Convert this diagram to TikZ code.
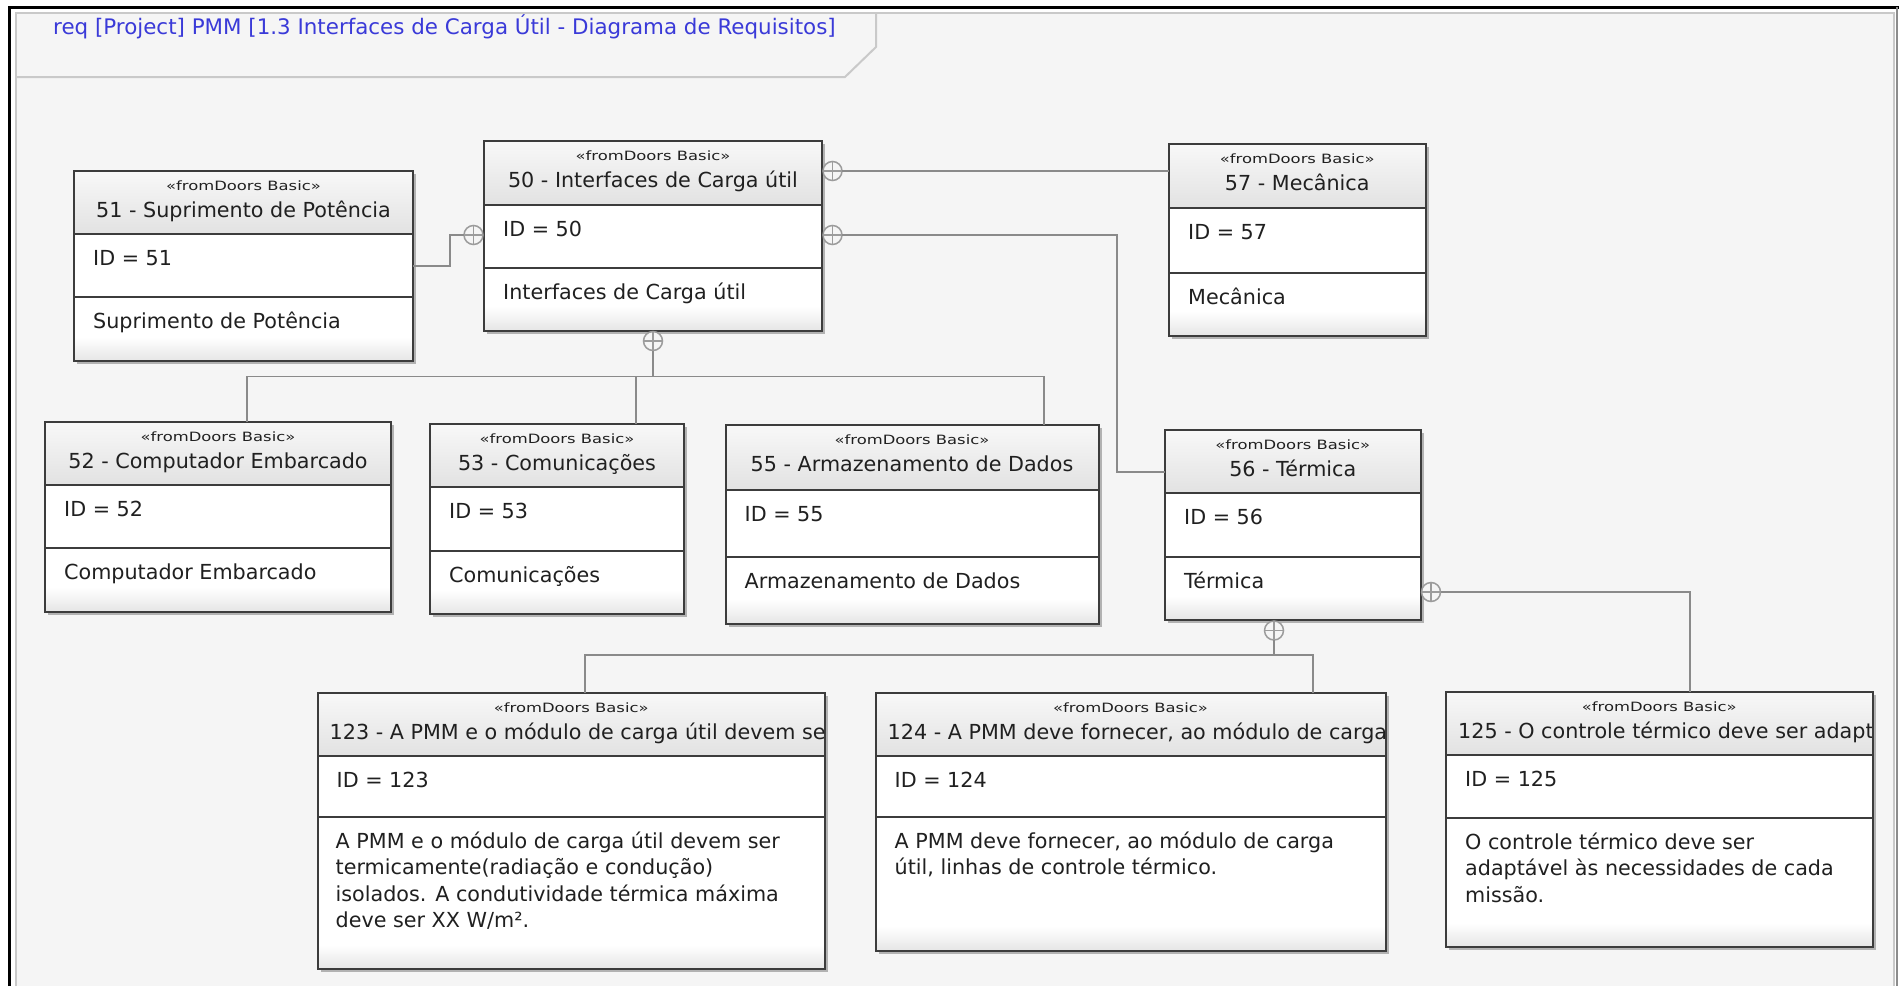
\documentclass[tikz,border=0pt]{standalone}
\usepackage{fontspec}
\setmainfont{DejaVu Sans}
\newfontfamily\stfont[FakeStretch=1.28]{DejaVu Sans}
\usetikzlibrary{fit,calc}
\definecolor{bg}{HTML}{F5F5F5}
\definecolor{frameg}{HTML}{C9C9C9}
\definecolor{boxb}{HTML}{3C3C3C}
\definecolor{hdrtop}{HTML}{F8F8F8}
\definecolor{hdrbot}{HTML}{E2E2E2}
\definecolor{conng}{HTML}{8A8A8A}
\definecolor{plusg}{HTML}{9C9C9C}
\definecolor{txt}{HTML}{202020}
\definecolor{titleblue}{HTML}{3A3AD8}
\tikzset{
 boxframe/.style={draw=boxb, line width=2pt, inner sep=0pt, outer sep=0pt, rectangle},
 divider/.style={draw=boxb, line width=2pt},
 shadowbox/.style={fill=black!30},
 mainfont/.style={font=\fontsize{20.7}{24}\selectfont, text=txt, inner sep=0pt},
 stfontst/.style={font=\stfont\fontsize{12.8}{14}\selectfont, text=txt, inner sep=0pt},
 conn/.style={draw=conng, line width=1.6pt},
 plusc/.style={circle, draw=plusg, line width=1.5pt, fill=bg, minimum size=19pt, inner sep=0pt, outer sep=0pt,
   path picture={\draw[plusg, line width=1.3pt] (path picture bounding box.north) -- (path picture bounding box.south) (path picture bounding box.west) -- (path picture bounding box.east);}},
}
\newcommand\rboxbase[7]{%
  \fill[shadowbox] ({#2+3},{#3+3}) rectangle ({#4+3},{#7+3});
  \shade[top color=hdrtop, bottom color=hdrbot] (#2,#3) rectangle (#4,#5);
  \fill[white] (#2,#5) rectangle (#4,{#7-24});
  \shade[top color=white, bottom color=black!10] (#2,{#7-24}) rectangle (#4,#7);
  \draw[divider] (#2,#5) -- (#4,#5) (#2,#6) -- (#4,#6);
  \node[boxframe, fit={(#2,#3) (#4,#7)}] (#1) {};
  \node[stfontst, anchor=base] (#1-st) at ({(#2+#4)/2},{#3+19.5}) {«fromDoors Basic»};
}
\newcommand\rbox[9]{%
  \rboxbase{#1}{#2}{#3}{#4}{#5}{#6}{#7}
  \node[mainfont, anchor=base] (#1-t) at ({(#2+#4)/2},{#3+46.5}) {#8};
  \node[mainfont, anchor=base west] (#1-id) at ({#2+19},{#5+31.5}) {#9};
}
\newcommand\rboxL[9]{%
  \rboxbase{#1}{#2}{#3}{#4}{#5}{#6}{#7}
  \begin{scope}
  \clip ({#2+1},#3) rectangle ({#4-1},#5);
  \node[mainfont, anchor=base west] (#1-t) at ({#2+12},{#3+46.5}) {#8};
  \end{scope}
  \node[mainfont, anchor=base west] (#1-id) at ({#2+19},{#5+31.5}) {#9};
}
\newcommand\bline[4]{\node[mainfont, anchor=base west] (#1) at (#2,#3) {#4};}
\begin{document}
\begin{tikzpicture}[x=1pt,y=-1pt]
\useasboundingbox (0,0) rectangle (1899,986);
% frame
\fill[white] (0,0) rectangle (1899,986);
\fill[bg] (16,13) rectangle (1894,986);
\draw[frameg, line width=2pt] (16,986) -- (16,13) -- (1894,13) -- (1894,986);
\draw[frameg, line width=2pt] (16,77) -- (845,77) -- (876,47) -- (876,13);
\draw[black, line width=3pt] (9.5,986) -- (9.5,7) -- (1899,7);
\draw[black!45, line width=2pt] (1897,7) -- (1897,986);
\node[font=\fontsize{21.4}{24}\selectfont, text=titleblue, inner sep=0pt, anchor=base west] (title) at (53,34) {req [Project] PMM [1.3 Interfaces de Carga Útil - Diagrama de Requisitos]};
% boxes
\rbox{b51}{74}{171}{413}{234}{297}{361}{51 - Suprimento de Potência}{ID = 51}
\bline{b51-b}{93}{328.5}{Suprimento de Potência}
\rbox{b50}{484}{140.5}{822}{204.5}{267.5}{330.5}{50 - Interfaces de Carga útil}{ID = 50}
\bline{b50-b}{503}{299}{Interfaces de Carga útil}
\rbox{b57}{1169}{144}{1425.5}{208}{272.5}{335.5}{57 - Mecânica}{ID = 57}
\bline{b57-b}{1188}{304}{Mecânica}
\rbox{b52}{45}{421.5}{391}{484.5}{547.5}{611.5}{52 - Computador Embarcado}{ID = 52}
\bline{b52-b}{64}{579}{Computador Embarcado}
\rbox{b53}{430}{424}{684}{487}{551}{614}{53 - Comunicações}{ID = 53}
\bline{b53-b}{449}{582.5}{Comunicações}
\rbox{b55}{725.5}{425}{1098.5}{489.5}{557}{623.5}{55 - Armazenamento de Dados}{ID = 55}
\bline{b55-b}{744.5}{588.5}{Armazenamento de Dados}
\rbox{b56}{1165}{430}{1420.5}{493}{557}{620}{56 - Térmica}{ID = 56}
\bline{b56-b}{1184}{588.5}{Térmica}
\rboxL{b123}{317.5}{693}{825}{755.5}{816.5}{969}{123 - A PMM e o módulo de carga útil devem ser}{ID = 123}
\bline{b123-b1}{335.5}{848}{A PMM e o módulo de carga útil devem ser}
\bline{b123-b2}{335.5}{874.5}{termicamente(radiação e condução)}
\bline{b123-b3}{335.5}{901}{isolados. A condutividade térmica máxima}
\bline{b123-b4}{335.5}{927.5}{deve ser XX W/m².}
\rboxL{b124}{875.5}{693}{1385.5}{755.5}{816.5}{950.5}{124 - A PMM deve fornecer, ao módulo de carga}{ID = 124}
\bline{b124-b1}{894.5}{848}{A PMM deve fornecer, ao módulo de carga}
\bline{b124-b2}{894.5}{874.5}{útil, linhas de controle térmico.}
\rboxL{b125}{1446}{691.5}{1872.5}{754.5}{817.5}{947}{125 - O controle térmico deve ser adaptável}{ID = 125}
\bline{b125-b1}{1465}{849}{O controle térmico deve ser}
\bline{b125-b2}{1465}{875.5}{adaptável às necessidades de cada}
\bline{b125-b3}{1465}{902}{missão.}
% containment markers
\node[plusc] (pA) at (473.5,235) {};
\node[plusc] (pB) at (832.5,171) {};
\node[plusc] (pC) at (832.5,235) {};
\node[plusc] (pD) at (653,341) {};
\node[plusc] (pE) at (1274,630.5) {};
\node[plusc] (pF) at (1431,592) {};
% connectors
\coordinate (k1) at (450,235);
\draw[conn] (b51.east) -| (k1) -- (pA.west);
\draw[conn] (pB.east) -- (pB.east -| b57.west);
\coordinate (k3) at (1117,472);
\draw[conn] (pC.east) -| (k3) -- (k3 -| b56.west);
\coordinate (bus1) at (653,376.5);
\draw[conn] (pD.south) -- (bus1);
\draw[conn] (b52.north -| 247,0) -- (bus1 -| 247,0) -- (bus1 -| 1044,0) -- (b55.north -| 1044,0);
\draw[conn] (b53.north -| 636,0) -- (bus1 -| 636,0);
\coordinate (bus2) at (1274,655);
\draw[conn] (pE.south) -- (bus2);
\draw[conn] (b123.north -| 585,0) -- (bus2 -| 585,0) -- (bus2 -| 1313,0) -- (b124.north -| 1313,0);
\draw[conn] (pF.east) -| (b125.north -| 1690,0);
\end{tikzpicture}
\end{document}
